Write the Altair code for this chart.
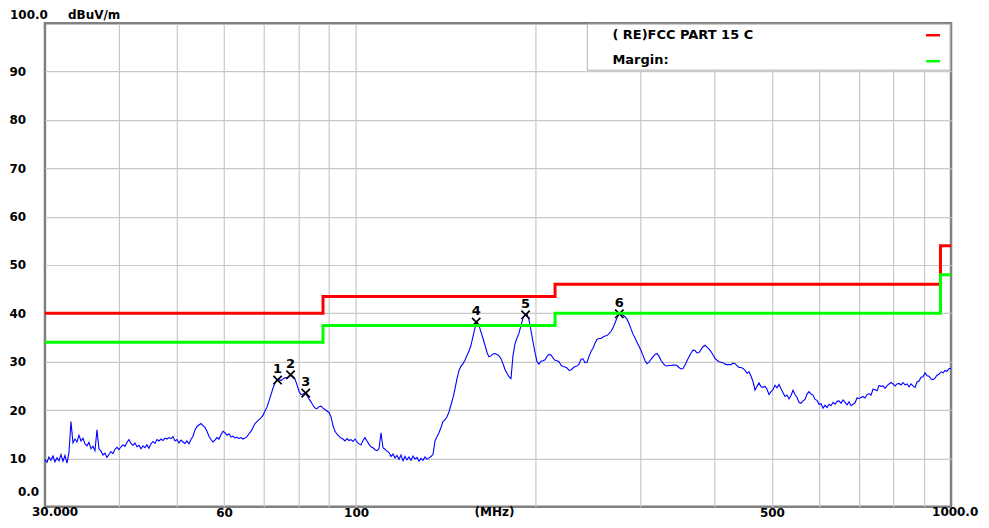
import altair as alt
import numpy as np
import pandas as pd

# ---- measured trace (dBuV/m), sweep points evenly spaced on the log frequency axis 30..1000 MHz
levels = [
    9.8, 9.2, 10.3, 9.6, 10.5, 9.3, 10.1, 9.5, 10.8, 9.4,
    10.6, 9.0, 11.2, 17.6, 13.2, 14.0, 13.4, 14.8, 13.6, 14.2,
    13.0, 12.6, 13.3, 12.0, 12.5, 11.6, 15.9, 12.0, 11.5, 10.7,
    11.1, 10.2, 10.8, 11.4, 11.0, 11.9, 12.3, 11.8, 12.4, 12.8,
    12.5, 13.3, 13.9, 13.1, 12.7, 13.2, 12.4, 12.7, 12.0, 12.6,
    12.2, 12.8, 12.1, 13.0, 13.5, 13.1, 13.9, 13.6, 14.0, 13.7,
    14.2, 14.0, 14.3, 14.1, 14.5, 13.6, 13.9, 13.2, 13.8, 13.4,
    13.1, 13.6, 13.0, 13.9, 14.6, 15.9, 16.6, 16.9, 17.2, 16.8,
    16.4, 15.6, 14.6, 13.9, 13.4, 13.8, 14.3, 14.0, 14.9, 15.6,
    15.3, 14.8, 15.1, 14.4, 14.6, 14.2, 14.4, 14.1, 14.3, 14.0,
    14.2, 14.5, 15.1, 15.6, 16.4, 17.2, 17.6, 18.0, 18.4, 18.9,
    19.8, 20.6, 21.9, 23.2, 24.5, 25.6, 26.2, 26.3, 26.1, 26.4,
    26.7, 26.6, 26.9, 27.2, 27.0, 26.4, 25.2, 23.9, 23.2, 23.3,
    23.5, 23.0, 22.3, 21.7, 21.0, 20.4, 20.3, 20.7, 20.8, 20.4,
    20.1, 19.8, 19.5, 18.6, 16.8, 15.6, 15.0, 14.6, 14.2, 14.0,
    13.6, 14.1, 13.7, 13.9, 13.5, 14.0, 13.4, 13.0, 12.8, 13.7,
    14.3, 13.6, 12.9, 12.4, 12.2, 11.8, 11.6, 12.0, 15.3, 12.2,
    11.9, 11.5, 11.2, 10.4, 10.9, 10.1, 10.6, 9.8, 10.7, 9.5,
    10.4, 9.7, 10.3, 9.6, 10.5, 9.9, 10.2, 9.4, 10.0, 9.6,
    10.3, 9.8, 10.1, 10.4, 10.8, 13.6, 14.5, 15.3, 16.4, 17.6,
    18.0, 18.6, 19.6, 21.1, 22.5, 24.4, 26.5, 28.2, 29.1, 29.6,
    30.3, 31.3, 32.2, 33.4, 35.2, 37.0, 38.2, 37.5, 36.1, 34.8,
    33.4, 31.9, 31.0, 31.2, 31.6, 31.7, 31.5, 31.2, 30.6, 29.6,
    28.4, 27.6, 26.9, 26.5, 31.3, 33.7, 34.9, 35.9, 37.5, 39.0,
    39.8, 39.9, 38.6, 36.4, 34.1, 31.9, 30.0, 29.5, 30.1, 30.2,
    30.4, 31.1, 31.5, 31.4, 30.8, 30.3, 30.2, 30.0, 29.3, 29.0,
    28.9, 28.7, 28.2, 28.3, 28.7, 29.0, 29.1, 29.5, 30.5, 30.6,
    29.8, 29.9, 31.1, 32.1, 32.8, 33.8, 34.6, 34.8, 34.8, 35.1,
    35.3, 35.4, 35.8, 36.3, 37.0, 38.0, 39.1, 39.8, 39.9, 39.6,
    39.3, 38.8, 37.9, 36.8, 35.7, 34.9, 34.0, 33.2, 32.3, 31.3,
    30.2, 29.6, 29.9, 30.5, 31.0, 31.5, 31.7, 31.1, 30.3, 29.7,
    29.2, 29.1, 29.2, 29.2, 29.3, 29.3, 29.2, 28.8, 28.5, 28.6,
    29.3, 30.2, 31.0, 31.8, 32.4, 32.3, 31.8, 31.9, 32.5, 33.1,
    33.4, 33.0, 32.6, 32.1, 31.4, 30.7, 30.3, 30.0, 29.9, 29.8,
    29.5, 29.4, 29.4, 29.4, 29.7, 29.6, 29.2, 28.8, 28.8, 28.6,
    28.2, 27.6, 27.9, 27.0, 25.9, 24.1, 24.9, 25.6, 24.8, 24.7,
    24.9, 24.3, 23.2, 23.8, 24.2, 25.1, 24.6, 25.3, 24.4, 23.6,
    22.8, 23.1, 22.3, 23.0, 24.1, 23.2, 22.6, 21.6, 21.4, 21.9,
    22.2, 23.3, 23.8, 23.3, 23.1, 22.2, 22.0, 21.2, 21.3, 20.4,
    21.0, 20.5, 21.2, 20.9, 21.6, 21.2, 21.8, 21.9, 21.4, 22.1,
    21.6, 21.1, 21.7, 20.9, 21.2, 21.5, 22.5, 22.4, 22.6, 22.8,
    22.5, 23.2, 23.4, 23.1, 24.3, 24.2, 24.0, 25.1, 24.9, 25.0,
    24.5, 25.0, 25.4, 25.7, 25.4, 25.0, 25.4, 25.5, 25.2, 25.7,
    25.2, 25.4, 24.8, 25.4, 25.0, 24.7, 25.8, 26.0, 26.8, 26.9,
    27.7, 27.1, 27.0, 26.4, 26.3, 26.6, 27.2, 27.4, 27.9, 27.7,
    28.2, 28.0, 28.6, 28.6,
]
freqs = np.geomspace(30, 1000, len(levels))

# ---- limit (FCC Part 15 C) and margin lines
limit_freq = [30, 88, 216, 960, 1000]
limit_level = [40, 43.5, 46, 54, 54]
margin_level = [34, 37.5, 40, 48, 48]

# ---- markers
marker_no = ["1", "2", "3", "4", "5", "6"]
marker_freq = [73.8, 77.6, 82.3, 159.2, 192.7, 277.0]
marker_level = [26.2, 27.3, 23.5, 38.2, 39.7, 39.9]

# ---- axes
x_grid = [40, 50, 60, 70, 80, 90, 100, 200, 300, 400, 500, 600, 700, 800, 900]
x_labels = [60, 100, 500]
y_grid = [10, 20, 30, 40, 50, 60, 70, 80, 90]

W, H = 907, 484
FONT = "DejaVu Sans"

trace_df = pd.DataFrame({"f": freqs, "lvl": levels})
limit_df = pd.DataFrame({"f": limit_freq, "lvl": limit_level})
margin_df = pd.DataFrame({"f": limit_freq, "lvl": margin_level})
marker_df = pd.DataFrame({"f": marker_freq, "lvl": marker_level, "no": marker_no})

xs = alt.Scale(type="log", domain=[30, 1000], nice=False, zero=False)
ys = alt.Scale(domain=[0, 100], nice=False, zero=False)

label_test = " || ".join(f"datum.value == {v}" for v in x_labels)
x_axis = alt.Axis(
    values=x_grid, title=None, grid=True, gridColor="#c8c8c8", gridWidth=1.2,
    ticks=False, tickSize=0, domain=False, format="d",
    labelExpr=f"({label_test}) ? datum.label : ''",
    labelFont=FONT, labelFontWeight="bold", labelFontSize=12, labelColor="black",
    labelBaseline="middle", labelPadding=5.5, labelOverlap=False,
)
y_axis = alt.Axis(
    values=y_grid, title=None, grid=True, gridColor="#c8c8c8", gridWidth=1.2,
    ticks=False, tickSize=0, domain=False, format="d",
    labelFont=FONT, labelFontWeight="bold", labelFontSize=12, labelColor="black",
    labelAlign="left", labelPadding=36, labelOverlap=False,
)

trace = alt.Chart(trace_df).mark_line(color="#0000ff", strokeWidth=1.1).encode(
    x=alt.X("f:Q", scale=xs, axis=x_axis),
    y=alt.Y("lvl:Q", scale=ys, axis=y_axis),
)

marks_x = alt.Chart(marker_df).mark_point(
    shape="M-1,-1L1,1M-1,1L1,-1", size=70, filled=False, color="black", strokeWidth=1.7, opacity=1
).encode(x=alt.X("f:Q", scale=xs), y=alt.Y("lvl:Q", scale=ys))

marks_no = alt.Chart(marker_df).mark_text(
    font=FONT, fontWeight="bold", fontSize=13, color="black", baseline="alphabetic", dy=-7
).encode(x=alt.X("f:Q", scale=xs), y=alt.Y("lvl:Q", scale=ys), text="no:N")

limit = alt.Chart(limit_df).mark_line(color="#ff0000", strokeWidth=3, interpolate="step-after").encode(
    x=alt.X("f:Q", scale=xs), y=alt.Y("lvl:Q", scale=ys))
margin = alt.Chart(margin_df).mark_line(color="#00ff00", strokeWidth=3, interpolate="step-after").encode(
    x=alt.X("f:Q", scale=xs), y=alt.Y("lvl:Q", scale=ys))

one = pd.DataFrame({"k": [0]})

legend_box = alt.Chart(one).mark_rect(fill="white", stroke="#c0c0c0", strokeWidth=1.2).encode(
    x=alt.value(543), x2=alt.value(906), y=alt.value(1), y2=alt.value(47))


def txt(s, px, py, align="left", size=12):
    return alt.Chart(one).mark_text(
        text=s, font=FONT, fontWeight="bold", fontSize=size, color="black",
        align=align, baseline="middle"
    ).encode(x=alt.value(px), y=alt.value(py))


legend_red = alt.Chart(one).mark_rule(color="#ff0000", strokeWidth=2.5).encode(
    x=alt.value(882), x2=alt.value(896), y=alt.value(12))
legend_green = alt.Chart(one).mark_rule(color="#00ff00", strokeWidth=2.5).encode(
    x=alt.value(882), x2=alt.value(896), y=alt.value(38))

texts = [
    txt("( RE)FCC PART 15 C", 568, 12, size=13),
    txt("Margin:", 568, 37, size=13),
    txt("100.0", -35, -8.5),
    txt("dBuV/m", 23, -8.5),
    txt("0.0", -27, 469),
    txt("30.000", -13, 489.5),
    txt("(MHz)", 450, 489.5, align="center"),
    txt("1000.0", 888, 489.5),
]

chart = alt.layer(
    trace, marks_x, marks_no, legend_box, limit, margin, legend_red, legend_green, *texts
).properties(
    width=W, height=H,
    padding={"left": 37, "top": 15, "right": 30, "bottom": 13},
    autosize=alt.AutoSizeParams(type="none"),
    background="white",
).configure_view(stroke="#808080", strokeWidth=2.5)

chart.save("out.html", embed_options={"renderer": "svg", "actions": False})
